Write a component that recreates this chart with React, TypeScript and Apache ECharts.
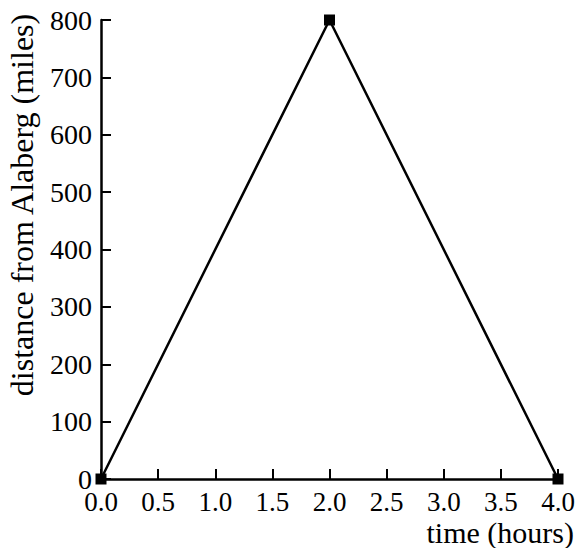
import React, { useEffect, useRef } from "react";
import * as echarts from "echarts";

const times = [0, 2, 4];
const distances = [0, 800, 0];
const xTicks = [0, 0.5, 1, 1.5, 2, 2.5, 3, 3.5, 4];
const yTicks = [0, 100, 200, 300, 400, 500, 600, 700, 800];
const xTitle = "time (hours)";
const yTitle = "distance from Alaberg (miles)";

export default function App() {
  const ref = useRef<HTMLDivElement>(null);
  useEffect(() => {
    if (!ref.current) return;
    const chart = echarts.init(ref.current, null, { renderer: "svg" });
    const font = "Liberation Serif";
    chart.setOption({
      animation: false,
      grid: { left: 101, right: 19, top: 20, bottom: 69, containLabel: false, outerBoundsMode: "none" },
      graphic: [
        {
          type: "text",
          x: 574,
          y: 532,
          style: {
            text: xTitle,
            fontFamily: font,
            fontSize: 30,
            fill: "#000",
            textAlign: "right",
            textVerticalAlign: "middle",
          },
        },
        {
          type: "text",
          x: 22,
          y: 205,
          rotation: Math.PI / 2,
          style: {
            text: yTitle,
            fontFamily: font,
            fontSize: 32,
            fill: "#000",
            textAlign: "center",
            textVerticalAlign: "middle",
          },
        },
      ],
      xAxis: {
        type: "value",
        min: xTicks[0],
        max: xTicks[xTicks.length - 1],
        interval: 0.5,
        axisLine: { show: true, lineStyle: { color: "#000", width: 2.5 } },
        axisTick: { show: true, inside: true, length: 10, lineStyle: { color: "#000", width: 2 } },
        axisLabel: {
          fontFamily: font,
          fontSize: 27,
          color: "#000",
          margin: 9,
          formatter: (v: number) => v.toFixed(1),
        },
        splitLine: { show: false },
      },
      yAxis: {
        type: "value",
        min: yTicks[0],
        max: yTicks[yTicks.length - 1],
        interval: 100,
        axisLine: { show: true, lineStyle: { color: "#000", width: 2.5 } },
        axisTick: { show: true, inside: true, length: 10, lineStyle: { color: "#000", width: 2 } },
        axisLabel: { fontFamily: font, fontSize: 28, color: "#000", margin: 9 },
        splitLine: { show: false },
      },
      series: [
        {
          type: "line",
          data: times.map((t, i) => [t, distances[i]]),
          lineStyle: { color: "#000", width: 2.5 },
          itemStyle: { color: "#000" },
          symbol: "rect",
          symbolSize: 11,
          clip: false,
        },
      ],
    });
    return () => chart.dispose();
  }, []);
  return <div ref={ref} style={{ width: 577, height: 548, position: "absolute", left: 0, top: 0 }} />;
}
